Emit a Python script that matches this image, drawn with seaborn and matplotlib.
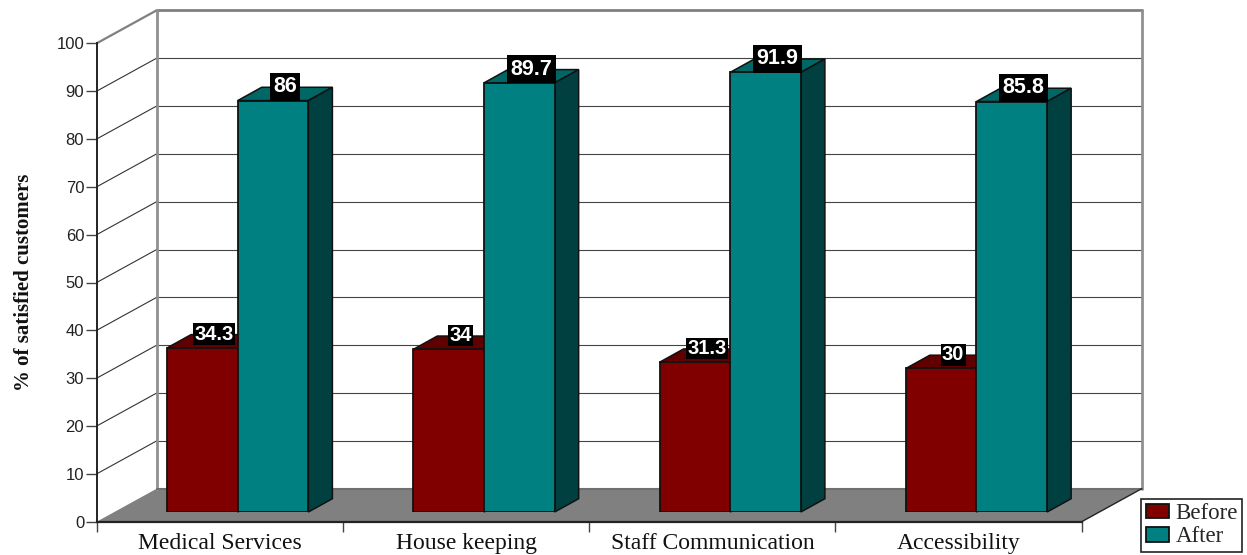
import matplotlib
matplotlib.use("Agg")
import matplotlib.pyplot as plt
import numpy as np
import pandas as pd
import seaborn as sns

categories = ["Medical Services", "House keeping", "Staff Communication", "Accessibility"]
before_values = [34.3, 34, 31.3, 30]
after_values = [86, 89.7, 91.9, 85.8]
y_ticks = list(range(0, 101, 10))
y_title = "% of satisfied customers"

sns.set_style("white")
W, H = 1247, 555
fig = plt.figure(figsize=(W / 100, H / 100), dpi=100)

# plot frame in pixels
L, R, T, B = 96.7, 1081.7, 43.3, 521.7
px_x = (R - L) / 4
px_y = (B - T) / 100
WALL_DX, WALL_DY = 60 / px_x, 33 / px_y
BAR_DX, BAR_DY = 24 / px_x, 13.3 / px_y
SHIFT_X, SHIFT_Y = 17.9, 9.7

ax = fig.add_axes([L / W, (H - B) / H, (R - L) / W, (B - T) / H])
axb = fig.add_axes([(L + SHIFT_X) / W, (H - B + SHIFT_Y) / H, (R - L) / W, (B - T) / H])
ax.set_zorder(1)
axb.set_zorder(2)
axb.patch.set_visible(False)
ax.patch.set_visible(False)

x0, x1 = -0.5, 3.5
ax.set_xlim(x0, x1)
ax.set_ylim(0, 100)

# floor
ax.fill([x0, x1, x1 + WALL_DX, x0 + WALL_DX], [0, 0, WALL_DY, WALL_DY],
        color="#808080", lw=0, clip_on=False, zorder=1)
# gridlines on the walls
for v in y_ticks[1:]:
    c = "#808080" if v == 100 else "#333333"
    lw = 1.6 if v == 100 else 0.8
    ax.plot([x0, x0 + WALL_DX], [v, v + WALL_DY], color=c, lw=lw, clip_on=False, zorder=2)
    ax.plot([x0 + WALL_DX, x1 + WALL_DX], [v + WALL_DY] * 2, color=c if v == 100 else "#444444",
            lw=2 if v == 100 else 0.8, clip_on=False, zorder=2)
ax.plot([x0 + WALL_DX] * 2, [WALL_DY, 100 + WALL_DY], color="#909090", lw=2, clip_on=False, zorder=2)
ax.plot([x1 + WALL_DX] * 2, [WALL_DY, 100 + WALL_DY], color="#909090", lw=2, clip_on=False, zorder=2)
ax.plot([x0 + WALL_DX, x1 + WALL_DX], [WALL_DY] * 2, color="#707070", lw=1.5, clip_on=False, zorder=2)
ax.plot([x1, x1 + WALL_DX], [0, WALL_DY], color="#222222", lw=1, clip_on=False, zorder=2)

# real axes
for s in ["top", "right"]:
    ax.spines[s].set_visible(False)
for s in ["left", "bottom"]:
    ax.spines[s].set_visible(True)
    ax.spines[s].set_color("#222222")
ax.spines["left"].set_linewidth(1.4)
ax.spines["bottom"].set_linewidth(1.6)
ax.set_yticks(y_ticks)
ax.set_yticklabels([str(v) for v in y_ticks], family="Liberation Sans", fontsize=12, color="#222222")
ax.tick_params(axis="y", length=8, width=1, color="#444444", pad=1, left=True)
ax.set_xticks(np.arange(x0, x1 + 0.5, 1))
ax.set_xticklabels([])
ax.set_xticks(range(4), categories, minor=True, family="Liberation Serif", fontsize=17, color="#111111")
ax.tick_params(axis="x", which="major", length=7, width=1, color="#444444", bottom=True)
ax.tick_params(axis="x", which="minor", length=0, pad=8)
fig.text(24 / W, 1 - 282 / H, y_title, rotation=90, ha="center", va="center",
         family="Liberation Serif", fontweight="bold", fontsize=15, color="#111111")

# bars
df = pd.DataFrame({
    "category": categories * 2,
    "period": ["Before"] * 4 + ["After"] * 4,
    "value": before_values + after_values,
})
palette = {"Before": "#800000", "After": "#008080"}
sns.barplot(data=df, x="category", y="value", hue="period", palette=palette, width=0.574,
            gap=0, saturation=1, edgecolor="#111111", linewidth=1.3, ax=axb, zorder=3, legend=True)
axb.set_xlim(x0, x1)
axb.set_ylim(0, 100)
axb.set_axis_off()

darks = {"#800000": ("#600000", "#400000"), "#008080": ("#006666", "#004040")}
series = [("#800000", axb.containers[0]), ("#008080", axb.containers[1])]
for color, cont in series:
    top_c, side_c = darks[color]
    big = color == "#008080"
    for p in cont:
        xa, w, h = p.get_x(), p.get_width(), p.get_height()
        xb = xa + w
        axb.fill([xa, xb, xb + BAR_DX, xa + BAR_DX], [h, h, h + BAR_DY, h + BAR_DY],
                 facecolor=top_c, edgecolor="#111111", lw=1.1, clip_on=False, zorder=2)
        axb.fill([xb, xb + BAR_DX, xb + BAR_DX, xb], [0, BAR_DY, h + BAR_DY, h],
                 facecolor=side_c, edgecolor="#111111", lw=1.1, clip_on=False, zorder=2)
        axb.text(xa + w / 2 + BAR_DX / 2, h + BAR_DY + 0.1, f"{h:g}", ha="center", va="center",
                 color="white", family="Liberation Sans", fontweight="bold",
                 fontsize=15.5 if big else 14.5, clip_on=False, zorder=5,
                 bbox=dict(facecolor="black", edgecolor="none", pad=2.5 if big else 1.0))

leg = axb.get_legend()
handles, labels = leg.legend_handles, [t.get_text() for t in leg.get_texts()]
leg.remove()
leg = axb.legend(handles, labels, loc="lower left", bbox_to_anchor=(1141 / W, (H - 552) / H),
                 bbox_transform=fig.transFigure, ncol=1, borderaxespad=0, frameon=True, fancybox=False,
                 framealpha=1, edgecolor="#222222",
                 prop={"family": "Liberation Serif", "size": 16.5}, handlelength=1.0, handleheight=0.62,
                 handletextpad=0.3, labelspacing=0.1, borderpad=0.2)
leg.get_frame().set_linewidth(1.2)

fig.savefig("out.png", dpi=100)
